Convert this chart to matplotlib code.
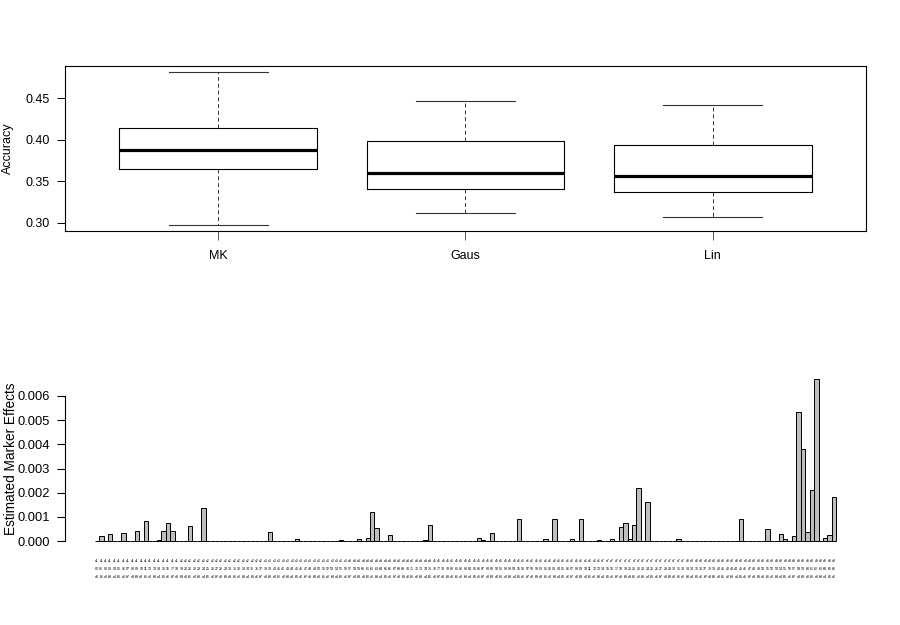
import numpy as np
import matplotlib
matplotlib.use("Agg")
from matplotlib import pyplot as plt

plt.rcParams["font.family"] = ["Liberation Sans", "DejaVu Sans"]

# accuracy per kernel (boxplot summary)
methods = ["MK", "Gaus", "Lin"]
acc_low = [0.2976, 0.312, 0.307]
acc_q1 = [0.3653, 0.341, 0.3374]
acc_med = [0.3883, 0.3604, 0.357]
acc_q3 = [0.4137, 0.398, 0.3943]
acc_high = [0.4815, 0.4464, 0.4415]

# marker effects: only non-zero bars listed, all others are 0
n_markers = 167
effect_pos = [1, 3, 6, 9, 11, 14, 15, 16, 17, 21, 24, 39, 45, 55, 59, 60, 61, 62, 63,
              66, 74, 75, 86, 87, 89, 95, 101, 103, 107, 109, 113, 116, 118, 119, 120,
              121, 122, 124, 131, 145, 151, 154, 155, 157, 158, 159, 160, 161, 162,
              164, 165, 166]
effect_val = [0.00019, 0.00029, 0.00033, 0.00040, 0.00083, 0.00003, 0.00041, 0.00074,
              0.00041, 0.00062, 0.00135, 0.00036, 0.00007, 0.00003, 0.00007, 0.00001,
              0.00011, 0.00122, 0.00052, 0.00023, 0.00003, 0.00067, 0.00011, 0.00003,
              0.00033, 0.00091, 0.00008, 0.00090, 0.00007, 0.00090, 0.00003, 0.00008,
              0.00057, 0.00073, 0.00008, 0.00066, 0.00220, 0.00161, 0.00007, 0.00090,
              0.00050, 0.00030, 0.00008, 0.00021, 0.00535, 0.00379, 0.00038, 0.00211,
              0.00670, 0.00011, 0.00025, 0.00181]
# tiny three-line marker names under the bars
marker_labels = [f"c{i // 19 + 1}\n{i % 100:02d}\n{'ab'[i % 2]}{i % 10}" for i in range(n_markers)]

effects = np.zeros(n_markers)
effects[effect_pos] = effect_val

fig = plt.figure(figsize=(9, 6.25), dpi=100)

# --- top: boxplot of accuracy
ax1 = fig.add_axes([65 / 900, 1 - 231 / 625, 801 / 900, 165 / 625])
stats = [dict(med=m, q1=a, q3=b, whislo=lo, whishi=hi, label=name)
         for name, lo, a, m, b, hi in zip(methods, acc_low, acc_q1, acc_med, acc_q3, acc_high)]
ax1.bxp(stats, positions=[1, 2, 3], widths=0.8, capwidths=0.4, showfliers=False,
        boxprops=dict(color="black", linewidth=0.8),
        whiskerprops=dict(color="#333333", linewidth=0.7, linestyle=(0, (4, 3))),
        capprops=dict(color="#333333", linewidth=0.8),
        medianprops=dict(color="black", linewidth=2.3))
ax1.set_xlim(0.38, 3.62)
ax1.set_ylim(0.2902, 0.4889)
ax1.set_yticks([0.30, 0.35, 0.40, 0.45])
ax1.set_yticklabels(["0.30", "0.35", "0.40", "0.45"])
ax1.tick_params(axis="both", direction="out", length=5.5, width=0.7, labelsize=9,
                colors="black")
ax1.tick_params(axis="y", pad=5.5)
ax1.tick_params(axis="x", length=6.5, pad=7, color="#555555")
for s in ax1.spines.values():
    s.set_linewidth(0.8)
ax1.set_ylabel("Accuracy", fontsize=9)
ax1.yaxis.set_label_coords(-0.064, 0.5)

# --- bottom: bar plot of estimated marker effects
ax2 = fig.add_axes([65 / 900, 1 - 547.5 / 625, 801 / 900, 174.9 / 625])
x = np.arange(n_markers) + 0.5
ax2.bar(x, effects, width=1.0, color="#bebebe", edgecolor="black", linewidth=0.7)
ax2.set_xlim(-0.04 * n_markers, 1.04 * n_markers)
ax2.set_ylim(-0.000268, 0.006968)
ax2.set_yticks(np.arange(0, 0.0061, 0.001))
ax2.set_yticklabels(["0.000", "0.001", "0.002", "0.003", "0.004", "0.005", "0.006"])
ax2.set_xticks(x)
ax2.set_xticklabels(marker_labels, fontsize=2.6, linespacing=2.3)
ax2.tick_params(axis="x", length=0, pad=8.5)
ax2.tick_params(axis="y", direction="out", length=6, width=0.8, labelsize=9.3, pad=5)
for side in ["top", "right", "bottom"]:
    ax2.spines[side].set_visible(False)
ax2.spines["left"].set_bounds(0, 0.006)
ax2.spines["left"].set_linewidth(0.8)
ax2.set_ylabel("Estimated Marker Effects", fontsize=9.8)
ax2.yaxis.set_label_coords(-0.059, 0.505)

fig.savefig("out.png", dpi=100)
